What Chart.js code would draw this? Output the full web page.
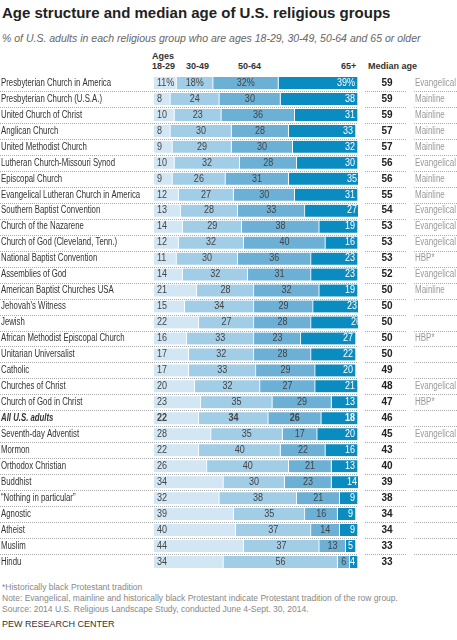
<!DOCTYPE html>
<html><head><meta charset="utf-8">
<script src="https://cdn.jsdelivr.net/npm/chart.js@4"></script>
<style>
body{margin:0;width:457px;height:640px;background:#fff;font-family:"Liberation Sans",sans-serif;color:#333;position:relative;overflow:hidden}
.t{position:absolute;left:2px;white-space:nowrap}
#wrap{position:absolute;left:0;top:75px;width:457px;height:495px}
</style></head><body>
<div class="t" style="top:4px;font:bold 15px 'Liberation Sans',sans-serif;color:#222">Age structure and median age of U.S. religious groups</div>
<div class="t" style="top:32px;font-style:italic;font-size:10.5px;color:#666">% of U.S. adults in each religious group who are ages 18-29, 30-49, 50-64 and 65 or older</div>
<div class="t" style="top:51px;left:152px;font-size:9px;line-height:10px;font-weight:bold;color:#333">Ages<br>18-29</div>
<div class="t" style="top:61px;left:186px;font-size:9px;font-weight:bold">30-49</div>
<div class="t" style="top:61px;left:238px;font-size:9px;font-weight:bold">50-64</div>
<div class="t" style="top:61px;left:341px;font-size:9px;font-weight:bold">65+</div>
<div class="t" style="top:61px;left:368px;font-size:9px;font-weight:bold">Median age</div>
<div id="wrap"><canvas id="c"></canvas></div>
<div class="t" style="top:582px;font-size:8.5px;color:#888">*Historically black Protestant tradition</div>
<div class="t" style="top:593px;font-size:8.5px;color:#888">Note: Evangelical, mainline and historically black Protestant indicate Protestant tradition of the row group.</div>
<div class="t" style="top:604px;font-size:8.5px;color:#888">Source: 2014 U.S. Religious Landscape Study, conducted June 4-Sept. 30, 2014.</div>
<div class="t" style="top:619px;font-size:9px;color:#333">PEW RESEARCH CENTER</div>
<script>
const groups = ["Presbyterian Church in America","Presbyterian Church (U.S.A.)","United Church of Christ","Anglican Church","United Methodist Church","Lutheran Church-Missouri Synod","Episcopal Church","Evangelical Lutheran Church in America","Southern Baptist Convention","Church of the Nazarene","Church of God (Cleveland, Tenn.)","National Baptist Convention","Assemblies of God","American Baptist Churches USA","Jehovah's Witness","Jewish","African Methodist Episcopal Church","Unitarian Universalist","Catholic","Churches of Christ","Church of God in Christ","All U.S. adults","Seventh-day Adventist","Mormon","Orthodox Christian","Buddhist","\u201cNothing in particular\u201d","Agnostic","Atheist","Muslim","Hindu"];
const ages18_29 = [11,8,10,8,9,10,9,12,13,14,12,11,14,21,15,22,16,17,17,20,23,22,28,22,26,34,32,39,40,44,34];
const ages30_49 = [18,24,23,30,29,32,26,27,28,29,32,30,32,28,34,27,33,32,33,32,35,34,35,40,40,30,38,35,37,37,56];
const ages50_64 = [32,30,36,28,30,28,31,30,33,38,40,36,31,32,29,28,23,28,29,27,29,26,17,22,21,23,21,16,14,13,6];
const ages65 = [39,38,31,33,32,30,35,31,27,19,16,23,23,19,23,26,27,22,20,21,13,18,20,16,13,14,9,9,9,5,4];
const medianAge = [59,59,59,57,57,56,56,55,54,53,53,53,52,50,50,50,50,50,49,48,47,46,45,43,40,39,38,34,34,33,33];
const tradition = ["Evangelical","Mainline","Mainline","Mainline","Mainline","Evangelical","Mainline","Mainline","Evangelical","Evangelical","Evangelical","HBP*","Evangelical","Mainline","","","HBP*","","","Evangelical","HBP*","","Evangelical","","","","","","","",""];
const ALL = groups.indexOf("All U.S. adults");
const colors = ["#d2e6f3","#a2cde6","#6cb0d6","#0a8cc1"];
const series = [ages18_29,ages30_49,ages50_64,ages65];
const FONT = '"Liberation Sans",sans-serif';

function narrow(ctx, txt, x, y, sx){
  ctx.save(); ctx.translate(x,y); ctx.scale(sx,1); ctx.fillText(txt,0,0); ctx.restore();
}

const extras = {
  id:"extras",
  afterDatasetsDraw(chart){
    const ctx = chart.ctx, y = chart.scales.y, area = chart.chartArea;
    ctx.save();
    ctx.textBaseline = "middle";
    chart.data.datasets.forEach((ds,di)=>{
      chart.getDatasetMeta(di).data.forEach((bar,i)=>{
        const txt = String(ds.data[i]) + (i===0 ? "%" : "");
        ctx.font = (i===ALL ? "bold " : "") + "10px " + FONT;
        ctx.fillStyle = di===3 ? "#fff" : "#444";
        if(di===0){ ctx.textAlign="left"; narrow(ctx, txt, bar.base+3, bar.y, 0.9); }
        else if(di===3){ ctx.textAlign="right"; narrow(ctx, txt, bar.x-3, bar.y, 0.9); }
        else { ctx.textAlign="center"; narrow(ctx, txt, (bar.base+bar.x)/2, bar.y, 0.9); }
      });
    });
    groups.forEach((g,i)=>{
      const cy = y.getPixelForValue(i);
      ctx.textAlign="left";
      ctx.font = (i===ALL ? "italic bold " : "") + "10px " + FONT; ctx.fillStyle="#333";
      narrow(ctx, g, 1, cy, 0.78);
      ctx.font = "bold 10px " + FONT; ctx.fillStyle="#222"; ctx.textAlign="center";
      ctx.fillText(medianAge[i], 387, cy);
      ctx.font = "10px " + FONT; ctx.fillStyle="#999"; ctx.textAlign="left";
      narrow(ctx, tradition[i], 415, cy, 0.8);
      const ly = Math.round(cy + 8) + 0.5;
      ctx.strokeStyle="#aaa"; ctx.lineWidth=1; ctx.setLineDash([1,1]);
      [[0,area.right],[365,407],[414,457]].forEach(([a,b])=>{
        ctx.beginPath(); ctx.moveTo(a,ly); ctx.lineTo(b,ly); ctx.stroke();
      });
    });
    ctx.restore();
  }
};

new Chart(document.getElementById("c"), {
  type:"bar",
  data:{ labels:groups, datasets: series.map((d,k)=>({data:d, backgroundColor:colors[k], borderColor:"#fff", borderWidth:{right:1}, borderSkipped:false, barThickness:12})) },
  options:{
    indexAxis:"y", responsive:true, maintainAspectRatio:false, animation:false,
    layout:{ padding:{left:0,right:99,top:0,bottom:0} },
    plugins:{ legend:{display:false}, tooltip:{enabled:false} },
    scales:{
      x:{ stacked:true, min:0, max:100, display:false },
      y:{ stacked:true, grid:{display:false}, border:{display:false},
          afterFit(s){ s.width = 154; },
          ticks:{ display:false } }
    }
  },
  plugins:[extras]
});
</script>
</body></html>
